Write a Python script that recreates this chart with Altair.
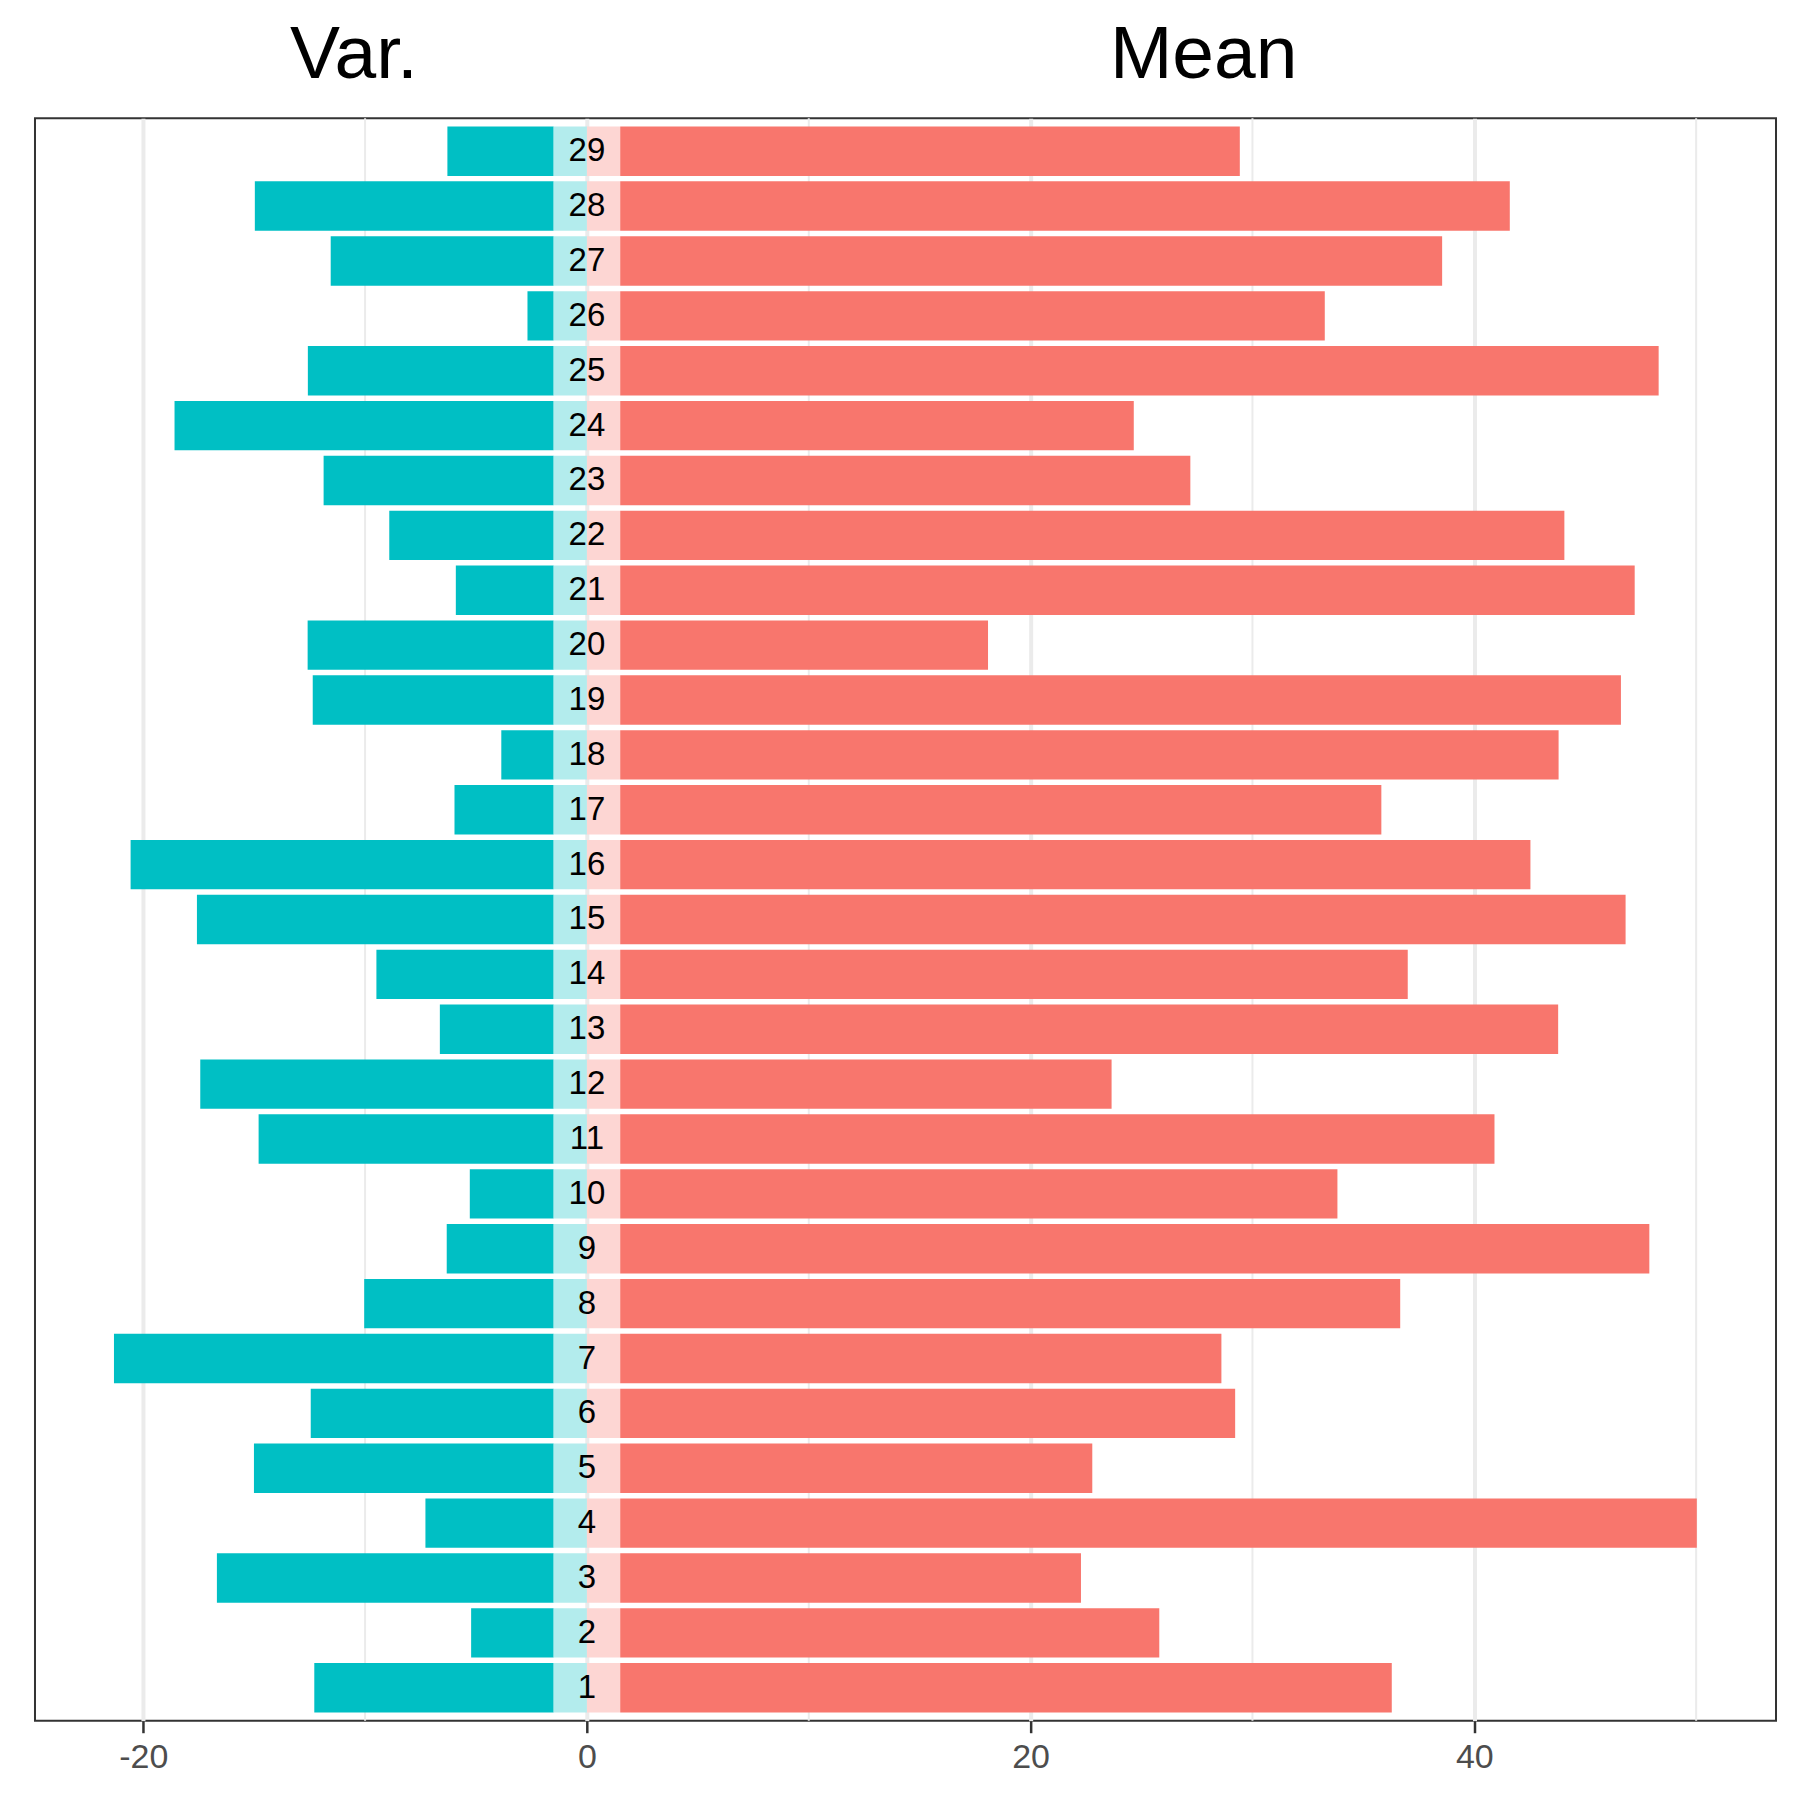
import altair as alt
import pandas as pd

# ---- data ----
ids = list(range(1, 30))
var_vals = [10.79, 3.72, 15.18, 5.78, 13.51, 10.95, 19.82, 8.54, 4.82, 3.78,
            13.30, 15.93, 5.13, 7.99, 16.08, 19.07, 4.47, 2.36, 10.86, 11.09,
            4.41, 7.41, 10.37, 17.09, 11.08, 1.18, 10.05, 13.47, 4.79]
mean_vals = [34.78, 24.30, 20.77, 48.53, 21.28, 27.72, 27.10, 35.16, 46.39, 32.33,
             39.41, 22.15, 42.28, 35.50, 45.32, 41.03, 34.31, 42.30, 45.11, 16.58,
             45.73, 42.56, 25.70, 23.15, 46.81, 31.76, 37.05, 40.10, 27.93]
titles = ["Var.", "Mean"]
title_pos = [-10.5, 27.8]
major_ticks = [-20, 0, 20, 40]
minor_ticks = [-10, 10, 30, 50]

OFF = 1.5
HALF = 0.45

df = pd.DataFrame({"id": ids, "var": var_vals, "mean": mean_vals})
df["y0"] = df["id"] - HALF
df["y1"] = df["id"] + HALF
df["v_start"] = -OFF
df["v_end"] = -OFF - df["var"]
df["m_start"] = OFF
df["m_end"] = OFF + df["mean"]
df["zero"] = 0.0
df["label"] = df["id"].astype(str)

xscale = alt.Scale(domain=[-24.88, 53.6], nice=False, zero=False)
yscale = alt.Scale(domain=[0.4, 29.6], nice=False, zero=False)

xaxis = alt.Axis(values=major_ticks, grid=True, gridColor="#EBEBEB", gridWidth=4,
                 domain=False, ticks=True, tickSize=12, tickWidth=2.5, tickColor="#333333",
                 labelFontSize=34, labelColor="#4D4D4D", labelFont="Liberation Sans",
                 labelPadding=8, title=None, labelExpr="'' + datum.value")

base = alt.Chart(df)

minor = alt.Chart(pd.DataFrame({"x": minor_ticks})).mark_rule(
    color="#EBEBEB", strokeWidth=2
).encode(x=alt.X("x:Q", scale=xscale, axis=xaxis))

var_bar = base.mark_rect(color="#00BFC4").encode(
    x=alt.X("v_end:Q", scale=xscale, axis=xaxis), x2="v_start:Q",
    y=alt.Y("y0:Q", scale=yscale, axis=None), y2="y1:Q")

var_band = base.mark_rect(color="#B3ECED").encode(
    x=alt.X("v_start:Q", scale=xscale, axis=xaxis), x2="zero:Q",
    y=alt.Y("y0:Q", scale=yscale, axis=None), y2="y1:Q")

mean_band = base.mark_rect(color="#FDD6D3").encode(
    x=alt.X("zero:Q", scale=xscale, axis=xaxis), x2="m_start:Q",
    y=alt.Y("y0:Q", scale=yscale, axis=None), y2="y1:Q")

mean_bar = base.mark_rect(color="#F8766D").encode(
    x=alt.X("m_start:Q", scale=xscale, axis=xaxis), x2="m_end:Q",
    y=alt.Y("y0:Q", scale=yscale, axis=None), y2="y1:Q")

labels = base.mark_text(fontSize=33, font="Liberation Sans", color="black",
                        baseline="middle", align="center").encode(
    x=alt.X("zero:Q", scale=xscale, axis=xaxis),
    y=alt.Y("id:Q", scale=yscale, axis=None),
    text="label:N")

title_df = pd.DataFrame({"t": titles, "x": title_pos})
title_marks = alt.Chart(title_df).mark_text(
    fontSize=75, font="Liberation Sans", color="black",
    baseline="alphabetic", align="center"
).encode(x=alt.X("x:Q", scale=xscale, axis=xaxis), y=alt.value(-40), text="t:N")

chart = alt.layer(minor, var_bar, var_band, mean_band, mean_bar, labels, title_marks).properties(
    width=1741.6, height=1603,
    autosize=alt.AutoSizeParams(type="none"),
    padding={"left": 27, "top": 110, "right": 16, "bottom": 70},
    background="white",
).configure_view(stroke="#333333", strokeWidth=2)

chart.save("out.html", embed_options={"renderer": "svg", "actions": False})
